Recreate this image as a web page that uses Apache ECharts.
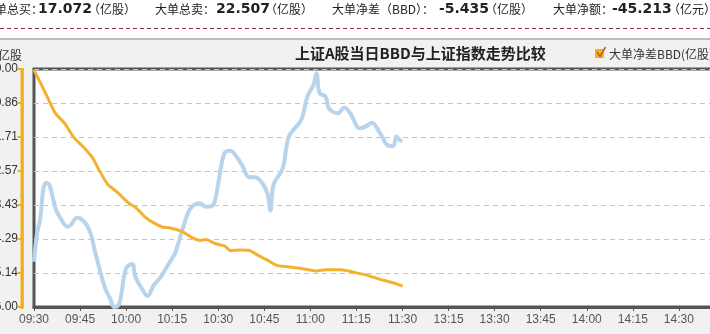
<!DOCTYPE html>
<html><head><meta charset="utf-8">
<script src="https://cdn.jsdelivr.net/npm/echarts@6/dist/echarts.min.js"></script>
<style>html,body{margin:0;padding:0;background:#f2f1f2}#c{width:710px;height:334px}</style>
</head><body><div id="c"></div>
<script>
// ---- data ----
var yTickLabels = ['-6.00','-5.14','-4.29','-3.43','-2.57','-1.71','-0.86','0.00'];
var xTickLabels = ['09:30','09:45','10:00','10:15','10:30','10:45','11:00','11:15','11:30','13:15','13:30','13:45','14:00','14:15','14:30','14:45','15:00'];
var bbdTimes = ['09:30','09:34','09:37','09:40','09:43','09:46','09:49','09:51','09:54','09:57','10:01','10:03','10:06','10:09','10:12','10:14','10:18','10:21','10:24','10:26','10:29','10:32','10:34','10:37','10:40','10:43','10:46','10:49','10:52','10:57','11:02','11:05','11:10','11:14','11:18','11:23','11:26','11:30'];
var bbdValues = [-0.02,-0.65,-1.12,-1.37,-1.73,-1.96,-2.23,-2.52,-2.91,-3.10,-3.39,-3.48,-3.72,-3.88,-3.99,-4.00,-4.09,-4.23,-4.32,-4.30,-4.40,-4.46,-4.58,-4.56,-4.57,-4.70,-4.82,-4.95,-4.98,-5.03,-5.09,-5.06,-5.06,-5.12,-5.19,-5.31,-5.37,-5.47];
var shTimes = ['09:30','09:31','09:32','09:33','09:34','09:35','09:37','09:38','09:41','09:42','09:44','09:45','09:48','09:50','09:53','09:55','09:56','09:57','09:58','10:00','10:02','10:03','10:05','10:07','10:09','10:11','10:13','10:15','10:16','10:19','10:21','10:24','10:26','10:28','10:29','10:30','10:32','10:34','10:36','10:38','10:40','10:42','10:44','10:46','10:47','10:48','10:51','10:53','10:57','10:59','11:01','11:02','11:03','11:05','11:06','11:09','11:11','11:13','11:16','11:18','11:20','11:23','11:25','11:27','11:28','11:29','11:30'];
var shValues = [19.0,31.0,36.6,49.2,52.2,51.3,41.5,38.7,33.7,34.5,37.5,37.3,32.4,22.6,8.5,2.9,0.0,0.2,2.5,16.3,18.1,12.7,8.0,4.6,9.2,12.0,16.3,20.5,22.8,35.2,41.5,43.6,42.1,42.5,45.0,52.0,64.6,65.7,63.0,59.0,54.5,54.5,52.6,47.8,40.5,51.3,58.3,71.6,78.6,88.4,93.3,98.2,89.8,88.4,83.5,81.4,83.7,81.4,75.1,75.8,77.4,72.3,68.1,67.6,71.6,70.2,69.7];
var headerLabels = ['大单总买：','大单总卖：','大单净差（BBD）：','大单净额：'];
var headerValues = ['17.072','22.507','-5.435','-45.213'];
var headerUnits = ['（亿股）','（亿股）','（亿股）','（亿元）'];
var legendName = '大单净差BBD(亿股)';

// ---- helpers ----
function tradeMin(t){var p=t.split(':');var m=+p[0]*60+ +p[1];return m<=690?m-570:m-780+120;}
function toPairs(ts,vs){return ts.map(function(t,i){return [tradeMin(t),vs[i]];});}
function yFmt(v){return yTickLabels[Math.round((v+6)/(6/7))];}

var CJK='"Noto Sans CJK SC","Noto Sans",sans-serif';
var ORANGE='#f3ae1c';
var hx = [[-17,38,88],[155,216,265],[332,439,485],[553,612,668]];
var graphics = [
  {type:'rect',left:0,top:0,shape:{width:710,height:39},style:{fill:'#fff'},z:-1},
  {type:'line',shape:{x1:0,y1:28.5,x2:710,y2:28.5},style:{stroke:'#8e2a45',lineWidth:1,lineDash:[4,3]}},
  {type:'line',shape:{x1:0,y1:39,x2:710,y2:39},style:{stroke:'#bdbdbd',lineWidth:2}},
  {type:'text',x:295,y:53,style:{text:'上证A股当日BBD与上证指数走势比较',font:'bold 15px '+CJK,fill:'#222',textVerticalAlign:'middle'}},
  {type:'rect',shape:{x:595,y:49,width:9,height:9},style:{fill:'#f5b120'}},
  {type:'polyline',shape:{points:[[597,52],[600,56.5],[605.5,47]]},style:{stroke:'#b5651d',lineWidth:1.5,fill:null},z:100},
  {type:'text',x:609,y:54,style:{text:legendName,font:'12px '+CJK,fill:'#333',textVerticalAlign:'middle'}}
];
for(var i=0;i<4;i++){
  graphics.push({type:'text',x:hx[i][0],y:9,style:{text:headerLabels[i],font:'12px '+CJK,fill:'#222',textVerticalAlign:'middle'}});
  graphics.push({type:'text',x:hx[i][1],y:9,style:{text:headerValues[i],font:'bold 14px "DejaVu Sans",Verdana,sans-serif',fill:'#222',textVerticalAlign:'middle'}});
  graphics.push({type:'text',x:hx[i][2],y:9,style:{text:headerUnits[i],font:'12px '+CJK,fill:'#222',textVerticalAlign:'middle'}});
}

var chart = echarts.init(document.getElementById('c'));
chart.setOption({
  backgroundColor:'#f2f1f2',
  animation:false,
  grid:[
    {left:22,top:69,width:12,height:238,outerBoundsMode:'none',show:false},
    {left:34,top:69,width:737,height:238,outerBoundsMode:'none',show:true,backgroundColor:'#fff',borderColor:'#555',borderWidth:3}
  ],
  xAxis:[
    {gridIndex:0,type:'value',min:0,max:1,show:false},
    {gridIndex:1,type:'value',min:0,max:240,interval:15,position:'bottom',
    axisLine:{show:true,onZero:false,lineStyle:{color:'#555',width:3}},
    axisTick:{show:true,length:4,lineStyle:{color:'#555'}},
    splitLine:{show:false},
    axisLabel:{margin:7,fontSize:12,color:'#555',fontFamily:'Arial,"Liberation Sans",sans-serif',
      formatter:function(v){return xTickLabels[Math.round(v/15)];}}}
  ],
  yAxis:[
    {gridIndex:0,type:'value',min:-6,max:0,interval:6/7,position:'left',
     name:'亿股',nameLocation:'end',nameGap:8,
     nameTextStyle:{align:'right',fontSize:12,color:'#333',fontFamily:CJK},
     axisLine:{show:true,onZero:false,lineStyle:{color:ORANGE,width:2.5}},
     axisTick:{show:true,length:3,lineStyle:{color:ORANGE,width:2}},
     axisLabel:{margin:4,fontSize:12,color:'#333',fontFamily:'Arial,"Liberation Sans",sans-serif',formatter:yFmt},
     splitLine:{show:false}},
    {gridIndex:1,type:'value',min:-6,max:0,interval:6/7,
     axisLine:{show:false},axisTick:{show:false},axisLabel:{show:false},
     splitLine:{show:true,lineStyle:{color:'#c4c4c4',type:[5,4]}}},
    {gridIndex:1,type:'value',min:0,max:100,position:'right',show:false,splitLine:{show:false}}
  ],
  series:[
    {name:'上证指数',type:'line',xAxisIndex:1,yAxisIndex:2,data:toPairs(shTimes,shValues),showSymbol:false,smooth:0.35,
     lineStyle:{color:'#b7d4ec',width:4},itemStyle:{color:'#b7d4ec'},z:2},
    {name:legendName,type:'line',xAxisIndex:1,yAxisIndex:1,data:toPairs(bbdTimes,bbdValues),showSymbol:false,smooth:0.2,
     lineStyle:{color:'#f2b22e',width:3},itemStyle:{color:'#f5b120'},z:3}
  ]
});

// orange BBD axis line and ticks, placed through the library's own scale
var finder = {xAxisIndex:0, yAxisIndex:0};
var pTop = chart.convertToPixel(finder, [0, 0]);
var pBot = chart.convertToPixel(finder, [0, -6]);
var axisX = pTop[0];
graphics.push({type:'rect',shape:{x:axisX-1.5,y:pTop[1]-1,width:3,height:pBot[1]-pTop[1]+3},style:{fill:ORANGE},z:50});
for (var k=0;k<yTickLabels.length;k++){
  var p = chart.convertToPixel(finder, [0, -6 + k*6/7]);
  graphics.push({type:'rect',shape:{x:axisX-4.5,y:p[1]-1,width:4,height:2},style:{fill:ORANGE},z:50});
}
chart.setOption({graphic:graphics});
</script></body></html>
